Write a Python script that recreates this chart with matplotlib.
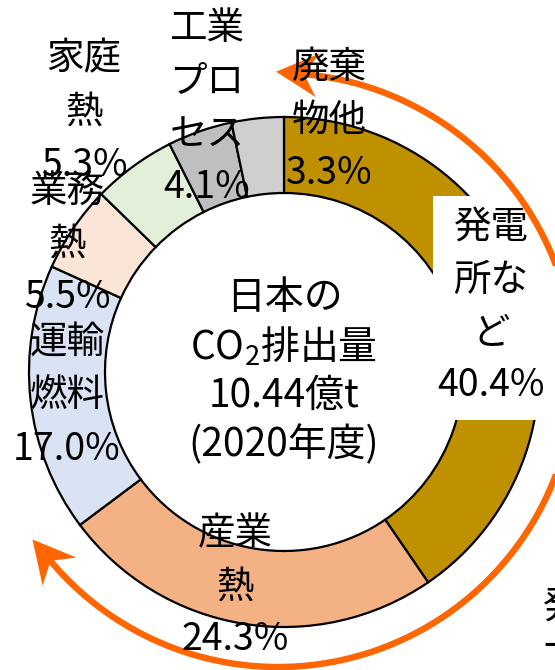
import numpy as np
import matplotlib
matplotlib.use('Agg')
import matplotlib.pyplot as plt
from matplotlib.patches import Polygon, Rectangle

plt.rcParams['font.family'] = ['Noto Sans CJK JP', 'DejaVu Sans']

# CO2 emissions of Japan by sector, FY2020 (share in %)
sectors = ['発電所など', '産業熱', '運輸燃料', '業務熱', '家庭熱', '工業プロセス', '廃棄物他']
shares = [40.4, 24.3, 17.0, 5.5, 5.3, 4.1, 3.3]
colors = ['#BF9000', '#F4B183', '#DAE3F3', '#FBE5D6', '#E2F0D9', '#BFBFBF', '#D0CECE']
label_lines = [['発電', '所な', 'ど'], ['産業', '熱'], ['運輸', '燃料'], ['業務', '熱'],
               ['家庭', '熱'], ['工業', 'プロ', 'セス'], ['廃棄', '物他']]
center_lines = ['日本の', 'CO$_2$排出量', '10.44億t', '(2020年度)']

# canvas in pixel units, y pointing up
W, H = 555, 670
cx, cy = 284, 298
R_OUT, RING = 255, 76

fig = plt.figure(figsize=(W / 100, H / 100), dpi=100)
ax = fig.add_axes([0, 0, 1, 1])

ax.pie(shares, colors=colors, startangle=90, counterclock=False,
       radius=R_OUT, center=(cx, cy),
       wedgeprops=dict(width=RING, edgecolor='black', linewidth=1.6))
ax.set_xlim(0, W)
ax.set_ylim(0, H)
ax.set_aspect('equal')
ax.axis('off')

# orange double-headed arc around the ring
ORANGE = '#FF6600'
acx, acy, ar = 278, 300, 297
a_top, a_end = 85, -140
t = np.radians(np.linspace(a_top, a_end, 300))
ax.plot(acx + ar * np.cos(t), acy + ar * np.sin(t), color=ORANGE, lw=4.6,
        solid_capstyle='butt', zorder=4)


def arrow_head(theta_deg, sign, length=42, half=22, notch=14):
    th = np.radians(theta_deg)
    n = np.array([acx + ar * np.cos(th), acy + ar * np.sin(th)])
    d = sign * np.array([-np.sin(th), np.cos(th)])
    p = np.array([-d[1], d[0]])
    tip = n + d * (length - notch)
    back = tip - d * length
    pts = [tip, back + p * half, n, back - p * half]
    ax.add_patch(Polygon(pts, closed=True, color=ORANGE, lw=0, zorder=4))


arrow_head(a_top, +1)
arrow_head(a_end, -1)

# white panel behind the power-plant label
ax.add_patch(Rectangle((433, 250), 112, 224, facecolor='white', edgecolor='none', zorder=3))

# sector labels: first-line centre (x, y)
label_pos = [(491, 443), (235, 136), (67, 327), (67, 479), (84, 611), (207, 641), (329, 603)]
STEP = 53
for lines, share, (x, y) in zip(label_lines, shares, label_pos):
    for i, s in enumerate(lines + [f'{share:.1f}%']):
        ax.text(x, y - i * STEP, s, ha='center', va='center', fontsize=27, zorder=5)

plt.rcParams['mathtext.fontset'] = 'custom'
plt.rcParams['mathtext.rm'] = 'Noto Sans CJK JP'
for i, s in enumerate(center_lines):
    ax.text(cx, 372 - i * 49, s, ha='center', va='center', fontsize=28, zorder=5)

# start of the neighbouring panel's label, cut by the edge
ax.text(543, 42, '発電\n一', ha='left', va='center', fontsize=27, linespacing=1.1, zorder=5)

fig.savefig('out.png', dpi=100)
